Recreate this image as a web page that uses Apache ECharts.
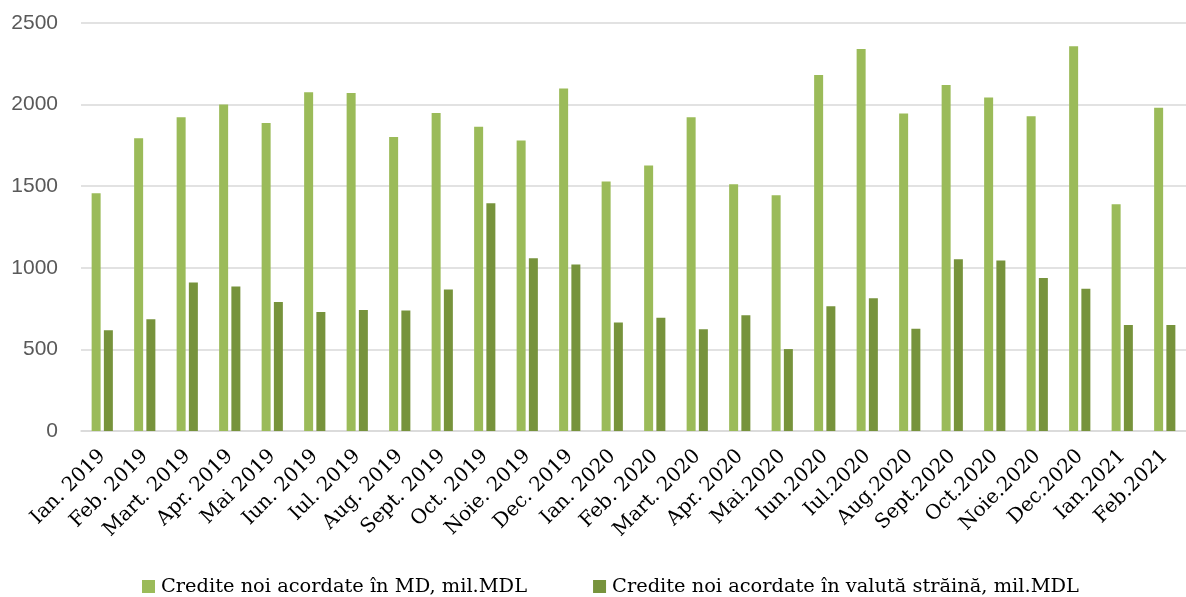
<!DOCTYPE html>
<html>
<head>
<meta charset="utf-8">
<script src="https://cdn.jsdelivr.net/npm/echarts@6/dist/echarts.min.js"></script>
<style>
html,body{margin:0;padding:0;background:#fff;}
#chart{width:1186px;height:597px;}
</style>
</head>
<body>
<div id="chart"></div>
<script>
const categories = ["Ian. 2019","Feb. 2019","Mart. 2019","Apr. 2019","Mai 2019","Iun. 2019","Iul. 2019","Aug. 2019","Sept. 2019","Oct. 2019","Noie. 2019","Dec. 2019","Ian. 2020","Feb. 2020","Mart. 2020","Apr. 2020","Mai.2020","Iun.2020","Iul.2020","Aug.2020","Sept.2020","Oct.2020","Noie.2020","Dec.2020","Ian.2021","Feb.2021"];
const seriesMDL = [1457,1794,1922,2000,1888,2076,2071,1802,1949,1865,1780,2098,1529,1627,1922,1512,1445,2182,2341,1945,2120,2043,1929,2357,1390,1980];
const seriesValuta = [618,684,910,886,790,729,741,739,867,1396,1059,1020,665,694,624,710,502,765,814,627,1053,1045,937,871,649,649];
const seriesNames = ["Credite noi acordate în MD, mil.MDL","Credite noi acordate în valută străină, mil.MDL"];
const yTicks = {min:0, max:2500, interval:500};

const chart = echarts.init(document.getElementById('chart'), null, {renderer:'canvas'});
chart.setOption({
  animation:false,
  backgroundColor:'#ffffff',
  grid:{left:81, top:23, width:1115, bottom:166, containLabel:false},
  legend:{
    left:137, top:572, itemWidth:13, itemHeight:13, itemGap:66,
    icon:'rect',
    textStyle:{fontFamily:'DejaVu Serif', fontSize:19.4, color:'#000', padding:[0,0,0,1]},
    data:seriesNames
  },
  xAxis:{
    type:'category', data:categories,
    axisLine:{lineStyle:{color:'#D9D9D9', width:1.5}},
    axisTick:{show:false},
    axisLabel:{rotate:45, interval:0, margin:22, fontFamily:'DejaVu Serif', fontSize:20, color:'#000'}
  },
  yAxis:{
    type:'value', min:yTicks.min, max:yTicks.max, interval:yTicks.interval,
    axisLine:{show:false}, axisTick:{show:false},
    splitLine:{lineStyle:{color:'#D9D9D9', width:1.5}},
    axisLabel:{margin:23, fontFamily:'Liberation Sans', fontSize:21, color:'#595959', formatter:function(v){return String(v);}}
  },
  series:[
    {name:seriesNames[0], type:'bar', data:seriesMDL, barWidth:9, barGap:'36%', itemStyle:{color:'#9BBB59'}},
    {name:seriesNames[1], type:'bar', data:seriesValuta, barWidth:9, barGap:'36%', itemStyle:{color:'#77933C'}}
  ]
});
</script>
</body>
</html>
